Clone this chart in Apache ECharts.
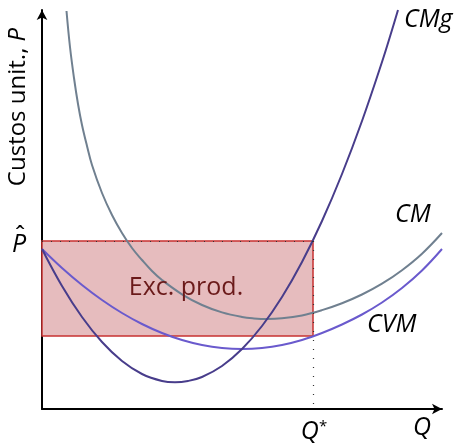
<!DOCTYPE html>
<html>
<head>
<meta charset="utf-8">
<script src="https://cdn.jsdelivr.net/npm/echarts@6/dist/echarts.min.js"></script>
<style>html,body{margin:0;padding:0;background:#fff}#c{width:457px;height:445px}</style>
</head>
<body>
<div id="c"></div>
<script>
// Data (x = quantity, y = unit cost, arbitrary units)
var cmData = [[24.5,398],[28,362],[32,331],[36,305],[40,284],[45,263],[50,244],[60,216],[70,194],[80,176],[90,161],[100,149],[110,138],[120,129],[140,114.7],[160,104],[180,96.6],[200,92],[212,90.6],[225,90],[240,90.7],[260,93.6],[280,98.9],[300,105.8],[320,114.5],[340,125.3],[360,138.8],[380,155.3],[400,176]];
var cvmData = [[0,160],[20,141],[40,124],[60,109],[80,96],[100,85],[120,76],[140,69],[160,64],[180,61],[200,60],[220,61],[240,64],[260,69],[280,76],[300,84.5],[320,94.5],[340,106.5],[360,121],[380,138.5],[400,160]];
var cmgData = [[0,160],[20,123],[40,92],[60,67],[80,48],[100,35],[120,28],[133,26.7],[146,28],[160,32],[180,43],[200,60],[220,83],[240,112],[260,147],[280,188],[300,235],[320,288],[340,347],[350,379],[356,399]];
var pHat = 168;
var qStar = 271;
var cvmAtQ = 73;
var xMax = 400, yMax = 399;

var chart = echarts.init(document.getElementById('c'));
var ff = '"Open Sans", sans-serif';
function label(x, y, text, opts) {
  var st = {text: text, fontSize: 25, fontFamily: ff, fontStyle: 'italic', fill: '#000', verticalAlign: 'middle', align: 'left'};
  for (var k in opts) st[k] = opts[k];
  return {type: 'text', x: x, y: y, z: 10, style: st};
}
chart.setOption({
  animation: false,
  grid: {left: 42, right: 15, top: 10, bottom: 36},
  xAxis: {type: 'value', min: 0, max: xMax, splitLine: {show: false}, axisTick: {show: false}, axisLabel: {show: false},
    axisLine: {lineStyle: {color: '#000', width: 2}, symbol: ['none', 'arrow'], symbolSize: [8, 10]}},
  yAxis: {type: 'value', min: 0, max: yMax, splitLine: {show: false}, axisTick: {show: false}, axisLabel: {show: false},
    axisLine: {lineStyle: {color: '#000', width: 2}, symbol: ['none', 'arrow'], symbolSize: [8, 10]}},
  series: [
    {type: 'line', data: [], z: 1,
      markArea: {silent: true, itemStyle: {color: '#E6BCBE', borderColor: '#C83232', borderWidth: 1.5},
        data: [[{coord: [0, cvmAtQ]}, {coord: [qStar, pHat]}]]},
      markLine: {silent: true, symbol: 'none', label: {show: false},
        lineStyle: {color: '#333', type: [1, 8], width: 1.2},
        data: [
          [{coord: [0, pHat]}, {coord: [qStar, pHat]}],
          [{coord: [qStar, pHat]}, {coord: [qStar, 0]}]
        ]}
    },
    {name: 'CM', type: 'line', data: cmData, smooth: 0.4, showSymbol: false, z: 3,
      lineStyle: {color: '#708090', width: 2}},
    {name: 'CVM', type: 'line', data: cvmData, smooth: 0.4, showSymbol: false, z: 3,
      lineStyle: {color: '#6A5ACD', width: 2}},
    {name: 'CMg', type: 'line', data: cmgData, smooth: 0.4, showSymbol: false, z: 4,
      lineStyle: {color: '#483D8B', width: 2}}
  ],
  graphic: [
    {type: 'text', x: 18, y: 107, rotation: Math.PI / 2, z: 10, style: {
      text: 'Custos unit., {i|P}', fontSize: 24, fontFamily: ff, fill: '#000', align: 'center', verticalAlign: 'middle',
      rich: {i: {fontStyle: 'italic', fontSize: 24, fontFamily: ff}}}},
    label(404, 20, 'CMg'),
    label(395, 215, 'CM'),
    label(367, 325, 'CVM'),
    label(186, 288, 'Exc. prod.', {fontStyle: 'normal', fill: '#6B1A1A', align: 'center'}),
    label(19, 245, 'P', {align: 'center'}),
    label(20, 238, '\u02C6', {align: 'center', fontStyle: 'normal'}),
    {type: 'text', x: 314, y: 432, z: 10, style: {text: '{q|Q}{s|*}', align: 'center', verticalAlign: 'middle', fill: '#000',
      rich: {q: {fontSize: 25, fontFamily: ff, fontStyle: 'italic'}, s: {fontSize: 15, fontFamily: ff, verticalAlign: 'top'}}}},
    label(422, 428, 'Q', {align: 'center'})
  ]
});
</script>
</body>
</html>
